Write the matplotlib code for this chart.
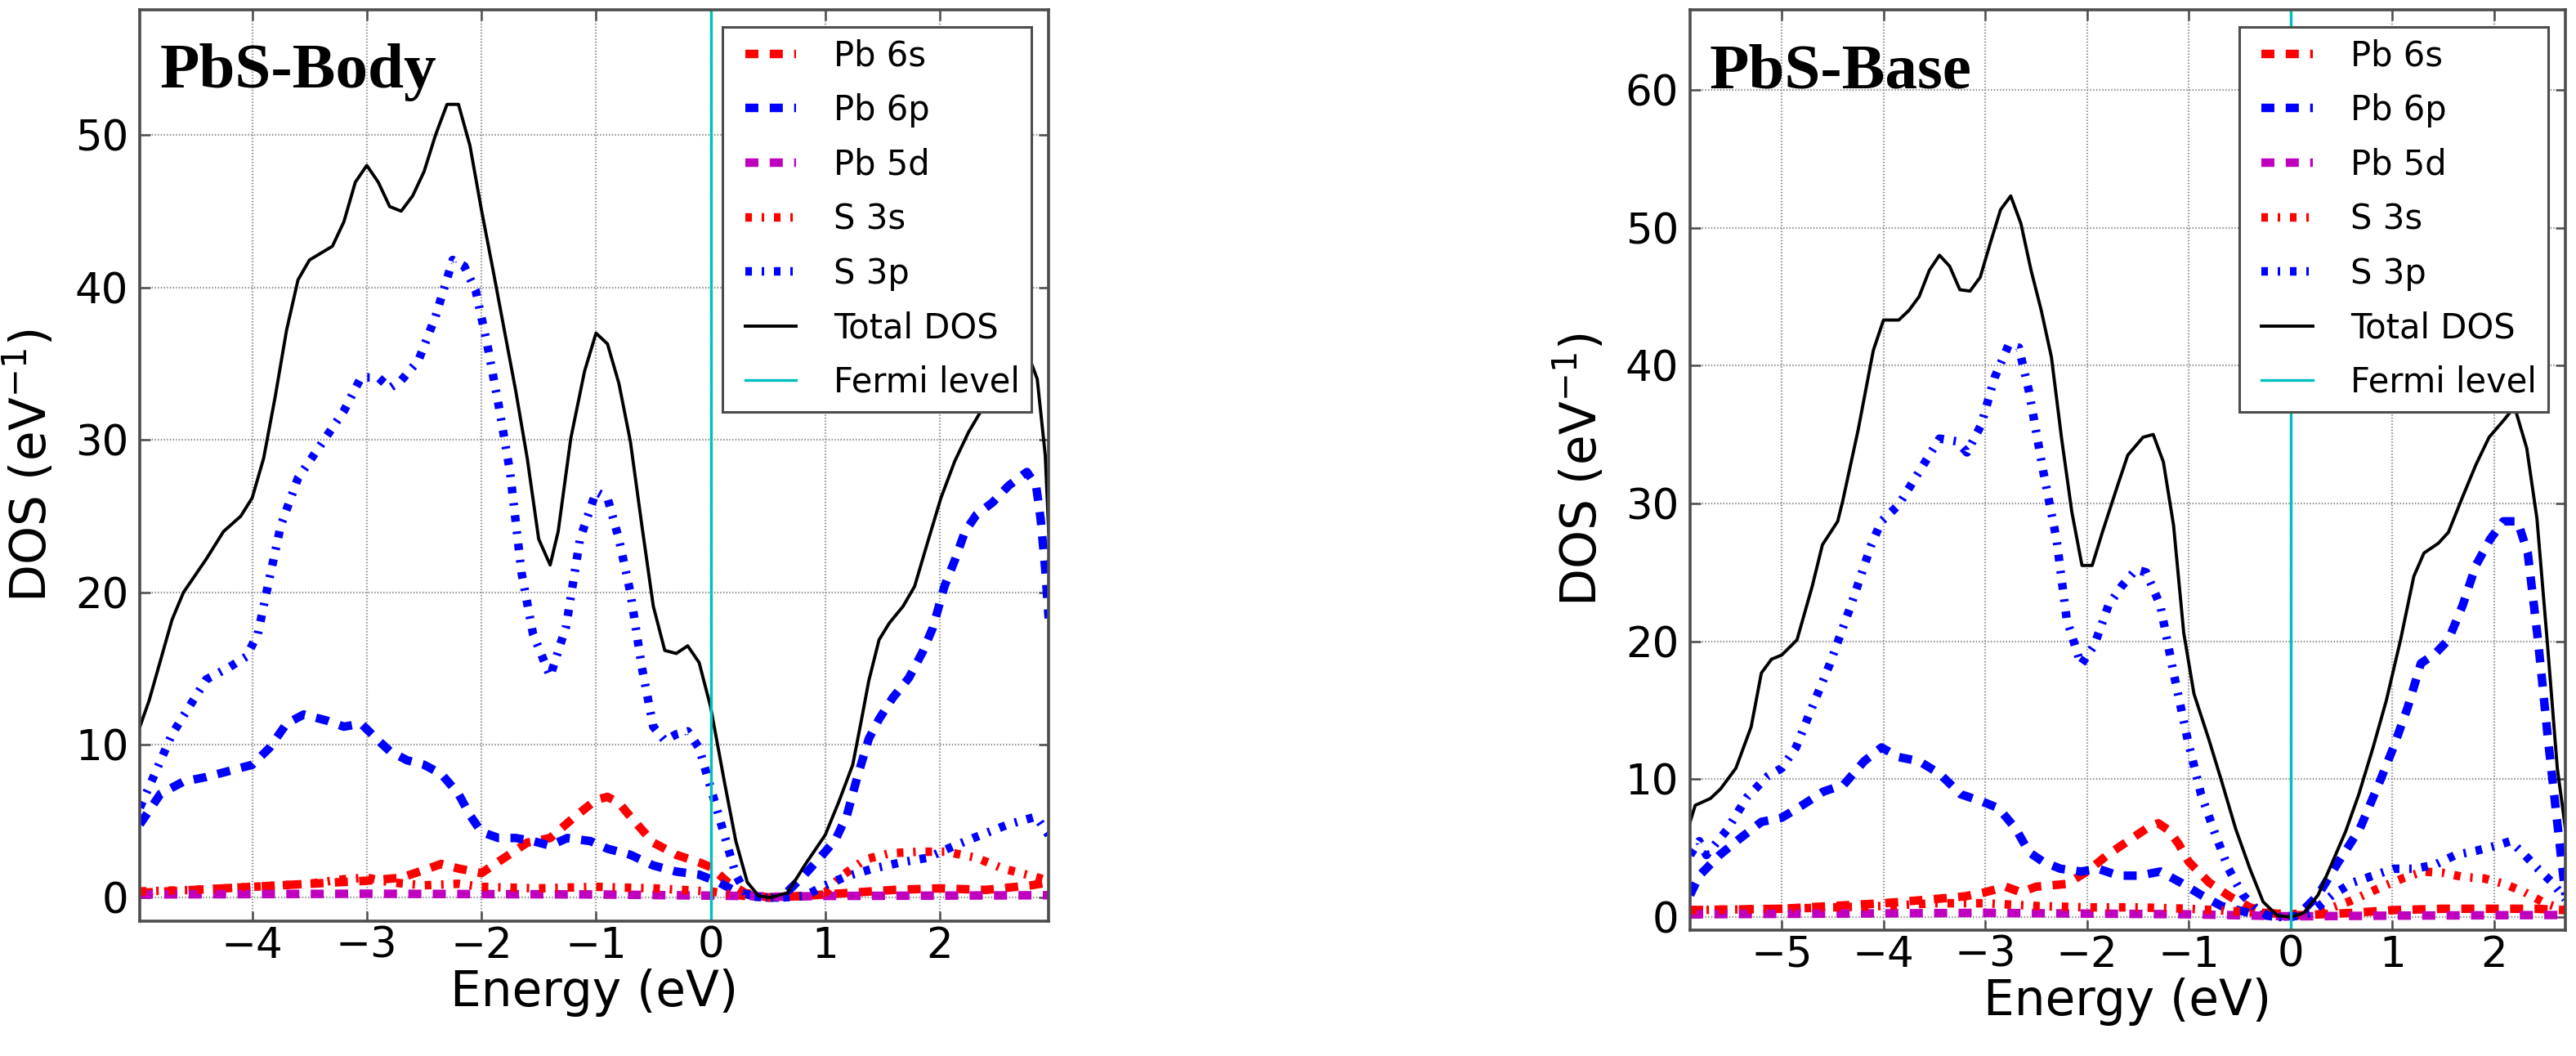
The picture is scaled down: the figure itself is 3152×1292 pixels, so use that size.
import matplotlib
matplotlib.use('Agg')
import matplotlib.pyplot as plt

# ---------------- PbS-Body (left) ----------------
body_tot_E = [-4.98, -4.9, -4.7, -4.6, -4.4, -4.25, -4.1, -4.0, -3.9, -3.8, -3.7, -3.6, -3.5, -3.3, -3.2, -3.1,
              -3.0, -2.9, -2.8, -2.7, -2.6, -2.5, -2.4, -2.3, -2.2, -2.1, -2.0, -1.9, -1.8, -1.7, -1.6, -1.5,
              -1.4, -1.33, -1.22, -1.1, -1.0, -0.9, -0.8, -0.7, -0.6, -0.5, -0.4, -0.3, -0.2, -0.1, 0.0, 0.12,
              0.22, 0.32, 0.42, 0.52, 0.67, 0.82, 1.0, 1.12, 1.24, 1.31, 1.38, 1.47, 1.56, 1.68, 1.78, 1.89,
              2.01, 2.13, 2.25, 2.36, 2.5, 2.65, 2.75, 2.85, 2.92, 2.95]
body_tot = [11.2, 12.9, 18.2, 20.0, 22.2, 24.0, 25.0, 26.2, 28.8, 32.8, 37.2, 40.5, 41.8, 42.7, 44.3, 46.9,
            48.0, 46.9, 45.3, 45.0, 46.0, 47.6, 50.0, 52.0, 52.0, 49.3, 45.1, 41.2, 37.2, 33.2, 28.8, 23.5,
            21.8, 24.0, 30.1, 34.5, 37.0, 36.3, 33.7, 29.9, 24.4, 19.1, 16.2, 16.0, 16.5, 15.4, 12.5, 7.6,
            3.7, 1.0, 0.1, 0.0, 0.3, 2.1, 4.1, 6.3, 8.7, 11.4, 14.2, 16.9, 18.0, 19.1, 20.4, 23.2,
            26.2, 28.6, 30.5, 31.9, 33.5, 35.5, 36.0, 34.0, 29.0, 24.0]

body_s3p_E = [-4.98, -4.85, -4.7, -4.55, -4.4, -4.2, -4.05, -3.95, -3.85, -3.75, -3.6, -3.4, -3.2, -3.05, -2.9,
              -2.8, -2.7, -2.55, -2.4, -2.25, -2.15, -2.05, -1.95, -1.85, -1.75, -1.65, -1.55, -1.4, -1.26,
              -1.14, -1.0, -0.9, -0.8, -0.7, -0.6, -0.5, -0.4, -0.3, -0.2, -0.1, 0.0, 0.12, 0.22, 0.32, 0.47,
              0.62, 0.82, 1.0, 1.19, 1.42, 1.66, 1.89, 2.13, 2.36, 2.6, 2.84, 2.95]
body_s3p = [5.9, 8.1, 10.7, 12.5, 14.3, 15.1, 15.8, 17.3, 20.9, 24.4, 27.5, 29.7, 31.9, 34.1, 34.1,
            33.4, 33.9, 35.2, 38.1, 41.8, 41.4, 39.8, 36.3, 32.3, 27.9, 21.3, 17.3, 14.5, 17.8,
            23.5, 26.6, 26.2, 23.5, 20.0, 15.1, 11.2, 10.3, 10.7, 10.9, 9.8, 7.2, 4.1, 1.5, 0.1, 0.0,
            0.0, 0.1, 0.8, 1.4, 1.9, 2.3, 2.6, 3.4, 4.1, 4.8, 5.3, 4.1]

body_pb6p_E = [-4.98, -4.8, -4.6, -4.4, -4.2, -4.0, -3.85, -3.7, -3.55, -3.35, -3.2, -3.05, -2.9, -2.8, -2.65,
               -2.5, -2.35, -2.2, -2.1, -2.0, -1.85, -1.7, -1.55, -1.4, -1.25, -1.05, -0.9, -0.7, -0.5, -0.3,
               -0.1, 0.07, 0.22, 0.42, 0.62, 0.82, 1.0, 1.09, 1.19, 1.28, 1.38, 1.47, 1.59, 1.73, 1.85, 1.94,
               2.04, 2.13, 2.22, 2.32, 2.46, 2.6, 2.76, 2.84, 2.88, 2.92, 2.95]
body_pb6p = [4.8, 6.8, 7.6, 7.9, 8.3, 8.7, 9.8, 11.4, 12.0, 11.6, 11.2, 11.4, 10.3, 9.6, 9.0,
             8.7, 8.1, 6.8, 5.4, 4.3, 3.9, 3.9, 3.7, 3.4, 3.9, 3.7, 3.2, 2.8, 2.1, 1.7,
             1.5, 1.0, 0.4, 0.0, 0.0, 1.5, 3.0, 3.8, 5.4, 7.9, 10.4, 11.7, 13.1, 14.4, 16.1, 17.7,
             20.4, 22.1, 24.0, 25.1, 25.9, 27.0, 27.9, 27.0, 24.8, 21.5, 18.3]

body_pb6s_E = [-4.98, -4.5, -4.0, -3.5, -3.0, -2.7, -2.5, -2.35, -2.2, -2.0, -1.8, -1.6, -1.4, -1.2, -1.0, -0.9,
               -0.8, -0.7, -0.5, -0.3, -0.1, 0.0, 0.15, 0.3, 0.5, 0.8, 1.2, 1.6, 2.0, 2.4, 2.8, 2.95]
body_pb6s = [0.3, 0.5, 0.7, 0.9, 1.1, 1.3, 1.8, 2.2, 1.9, 1.6, 2.6, 3.6, 3.9, 5.2, 6.4, 6.6,
             6.2, 5.3, 3.6, 2.8, 2.3, 2.0, 1.0, 0.3, 0.0, 0.1, 0.3, 0.5, 0.6, 0.5, 0.8, 1.0]

body_s3s_E = [-4.98, -4.5, -4.0, -3.5, -3.2, -3.0, -2.8, -2.5, -2.2, -2.0, -1.5, -1.0, -0.5, 0.0, 0.3, 0.5,
              0.8, 1.0, 1.14, 1.35, 1.56, 1.82, 2.06, 2.32, 2.55, 2.81, 2.95]
body_s3s = [0.4, 0.5, 0.7, 0.9, 1.2, 1.3, 1.0, 0.8, 0.9, 0.7, 0.6, 0.7, 0.6, 0.4, 0.1, 0.0,
            0.1, 0.3, 1.4, 2.5, 2.9, 3.0, 3.0, 2.6, 1.9, 1.4, 1.1]

body_pb5d_E = [-4.98, -3.0, -1.0, 0.3, 0.6, 1.0, 2.95]
body_pb5d = [0.2, 0.25, 0.2, 0.1, 0.05, 0.1, 0.15]

# ---------------- PbS-Base (right) ----------------
base_tot_E = [-5.9, -5.85, -5.7, -5.6, -5.45, -5.3, -5.2, -5.1, -5.0, -4.85, -4.7, -4.6, -4.45, -4.4, -4.25,
              -4.1, -4.0, -3.85, -3.75, -3.65, -3.55, -3.45, -3.35, -3.25, -3.15, -3.05, -2.95, -2.85, -2.75,
              -2.65, -2.55, -2.45, -2.35, -2.25, -2.15, -2.05, -1.95, -1.85, -1.7, -1.6, -1.45, -1.35, -1.25,
              -1.15, -1.05, -0.95, -0.8, -0.68, -0.54, -0.4, -0.27, -0.13, 0.0, 0.13, 0.27, 0.4, 0.54, 0.67,
              0.81, 0.94, 1.08, 1.21, 1.31, 1.45, 1.55, 1.68, 1.82, 1.95, 2.09, 2.2, 2.32, 2.42, 2.52, 2.62, 2.7]
base_tot = [6.9, 8.1, 8.6, 9.3, 10.8, 13.8, 17.7, 18.7, 19.0, 20.1, 24.0, 27.0, 28.7, 30.2, 35.3,
            41.1, 43.3, 43.3, 44.0, 45.0, 46.9, 48.0, 47.2, 45.5, 45.4, 46.4, 48.9, 51.3, 52.3,
            50.3, 46.9, 44.0, 40.6, 34.7, 29.4, 25.5, 25.5, 27.9, 31.3, 33.5, 34.8, 35.0, 33.0,
            28.4, 20.6, 16.2, 12.8, 9.9, 6.4, 3.5, 1.1, 0.1, 0.0, 0.3, 1.6, 3.8, 6.2, 8.9,
            12.3, 15.7, 20.1, 24.7, 26.4, 27.1, 27.9, 30.3, 32.8, 34.8, 36.0, 37.0, 34.0, 28.9, 20.1, 10.8, 6.4]

base_s3p_E = [-5.9, -5.81, -5.74, -5.54, -5.34, -5.14, -5.0, -4.86, -4.73, -4.53, -4.32, -4.12, -4.02, -3.85,
              -3.65, -3.45, -3.28, -3.18, -3.04, -2.91, -2.77, -2.67, -2.57, -2.43, -2.3, -2.2, -2.06, -1.93,
              -1.79, -1.66, -1.52, -1.42, -1.28, -1.15, -1.01, -0.88, -0.74, -0.61, -0.47, -0.34, -0.2, 0.0,
              0.2, 0.41, 0.61, 0.81, 1.01, 1.22, 1.42, 1.62, 1.82, 2.03, 2.16, 2.3, 2.43, 2.57, 2.7]
base_s3p = [4.5, 5.5, 4.5, 6.3, 8.7, 10.2, 10.8, 12.3, 14.7, 18.3, 22.6, 27.0, 28.7, 29.9,
            32.3, 34.7, 34.5, 33.7, 35.7, 39.1, 41.5, 41.3, 38.1, 32.3, 27.4, 21.6, 18.3, 19.7,
            22.6, 24.0, 25.2, 25.0, 22.6, 17.7, 12.8, 8.9, 6.0, 3.5, 1.6, 0.6, 0.0, 0.0,
            0.3, 1.6, 2.5, 3.0, 3.5, 3.5, 3.8, 4.5, 4.8, 5.2, 5.5, 4.5, 3.5, 2.5, 1.3]

base_pb6p_E = [-5.9, -5.81, -5.61, -5.41, -5.2, -5.0, -4.8, -4.59, -4.39, -4.19, -4.02, -3.85, -3.65, -3.45,
               -3.24, -3.04, -2.87, -2.7, -2.57, -2.43, -2.26, -2.06, -1.89, -1.69, -1.49, -1.28, -1.08, -0.88,
               -0.68, -0.41, -0.14, 0.07, 0.27, 0.47, 0.68, 0.88, 1.01, 1.15, 1.28, 1.42, 1.55, 1.69, 1.82,
               1.96, 2.09, 2.23, 2.33, 2.43, 2.53, 2.64, 2.7]
base_pb6p = [1.6, 3.0, 4.5, 5.7, 6.9, 7.2, 8.1, 9.1, 9.6, 11.3, 12.3, 11.6, 11.3, 10.4,
             8.9, 8.4, 7.9, 6.4, 4.7, 4.0, 3.5, 3.3, 3.5, 3.0, 3.0, 3.3, 2.5, 1.6,
             0.8, 0.3, 0.0, 0.1, 1.6, 4.0, 6.4, 9.9, 12.3, 15.2, 18.4, 19.1, 20.1, 22.6, 25.5,
             27.4, 28.7, 28.7, 26.4, 20.1, 12.8, 5.5, 1.6]

base_pb6s_E = [-5.9, -5.0, -4.5, -4.0, -3.5, -3.2, -3.0, -2.8, -2.65, -2.5, -2.2, -2.0, -1.8, -1.6, -1.4,
               -1.3, -1.2, -1.1, -1.0, -0.8, -0.6, -0.4, -0.2, 0.0, 0.3, 0.6, 1.0, 1.5, 2.0, 2.4, 2.7]
base_pb6s = [0.5, 0.6, 0.8, 1.0, 1.3, 1.5, 1.8, 2.2, 1.8, 2.2, 2.4, 3.3, 4.5, 5.5, 6.5,
             6.8, 6.3, 5.3, 4.0, 2.5, 1.5, 0.7, 0.3, 0.1, 0.2, 0.3, 0.5, 0.6, 0.6, 0.6, 0.5]

base_s3s_E = [-5.9, -5.0, -4.0, -3.5, -3.0, -2.5, -2.0, -1.5, -1.0, -0.5, 0.0, 0.3, 0.6, 0.9, 1.1, 1.3,
              1.5, 1.7, 1.9, 2.1, 2.3, 2.5, 2.7]
base_s3s = [0.5, 0.6, 0.8, 1.0, 1.0, 0.8, 0.7, 0.7, 0.6, 0.4, 0.2, 0.4, 1.2, 2.2, 2.8, 3.3,
            3.2, 2.9, 2.8, 2.4, 1.8, 1.0, 0.5]

base_pb5d_E = [-5.9, -3.0, -1.0, 0.0, 1.0, 2.7]
base_pb5d = [0.2, 0.3, 0.2, 0.05, 0.1, 0.15]

plt.rcParams['font.family'] = ['DejaVu Sans']
plt.rcParams['mathtext.fontset'] = 'dejavusans'
plt.rcParams['lines.scale_dashes'] = False

DASH = (11.5, 10)
DASHDOT = (5.8, 8.6, 2.2, 8.6)
FERMI = (0.0, 0.75, 0.75)


def draw_panel(ax, data, xlim, ylim, xticks, yticks, title):
    (e6s, v6s), (e6p, v6p), (e5d, v5d), (e3s, v3s), (e3p, v3p), (etot, vtot) = data
    ax.plot(e6s, v6s, color='r', lw=7.5, dashes=DASH, label='Pb 6s')
    ax.plot(e6p, v6p, color='b', lw=7.5, dashes=DASH, label='Pb 6p')
    ax.plot(e5d, v5d, color=(0.75, 0, 0.75), lw=7.5, dashes=DASH, label='Pb 5d')
    ax.plot(e3s, v3s, color='r', lw=7.5, dashes=DASHDOT, label='S 3s')
    ax.plot(e3p, v3p, color='b', lw=7.5, dashes=DASHDOT, label='S 3p')
    ax.plot(etot, vtot, color='k', lw=2.8, label='Total DOS')
    ax.axvline(0, color=FERMI, lw=2.4, label='Fermi level')

    ax.set_xlim(*xlim)
    ax.set_ylim(*ylim)
    ax.set_xticks(xticks)
    ax.set_yticks(yticks)
    ax.grid(True, color='0.55', ls=':', lw=1.6)
    ax.tick_params(direction='in', top=True, right=True, length=9, width=1.8,
                   labelsize=37, color='0.3')
    ax.tick_params(axis='x', pad=4)
    ax.tick_params(axis='y', pad=10)
    for sp in ax.spines.values():
        sp.set_linewidth(2.6)
        sp.set_color('0.3')
    ax.set_xlabel('Energy (eV)', fontsize=43, labelpad=2)
    ax.set_ylabel('DOS (eV$^{-1}$)', fontsize=43, labelpad=16)
    ax.text(0.022, 0.915, title, transform=ax.transAxes, fontsize=57,
            fontweight='bold', family='Liberation Serif', va='baseline', ha='left')
    leg = ax.legend(loc='upper right', fontsize=30, numpoints=2, handlelength=2.1,
                    handletextpad=0.8, labelspacing=0.59, borderpad=0.35,
                    borderaxespad=0.5, fancybox=False, framealpha=1.0)
    leg.get_frame().set_edgecolor('0.3')
    leg.get_frame().set_linewidth(2.2)


fig = plt.figure(figsize=(31.52, 12.92), dpi=100)
ax1 = fig.add_axes([0.0543, 0.1277, 0.3528, 0.863])
ax2 = fig.add_axes([0.6561, 0.1192, 0.3398, 0.8715])

draw_panel(ax1,
           [(body_pb6s_E, body_pb6s), (body_pb6p_E, body_pb6p), (body_pb5d_E, body_pb5d),
            (body_s3s_E, body_s3s), (body_s3p_E, body_s3p), (body_tot_E, body_tot)],
           (-4.98, 2.95), (-1.55, 58.2), [-4, -3, -2, -1, 0, 1, 2], [0, 10, 20, 30, 40, 50],
           'PbS-Body')
draw_panel(ax2,
           [(base_pb6s_E, base_pb6s), (base_pb6p_E, base_pb6p), (base_pb5d_E, base_pb5d),
            (base_s3s_E, base_s3s), (base_s3p_E, base_s3p), (base_tot_E, base_tot)],
           (-5.9, 2.7), (-0.95, 65.8), [-5, -4, -3, -2, -1, 0, 1, 2], [0, 10, 20, 30, 40, 50, 60],
           'PbS-Base')

fig.savefig('out.png', dpi=100)
